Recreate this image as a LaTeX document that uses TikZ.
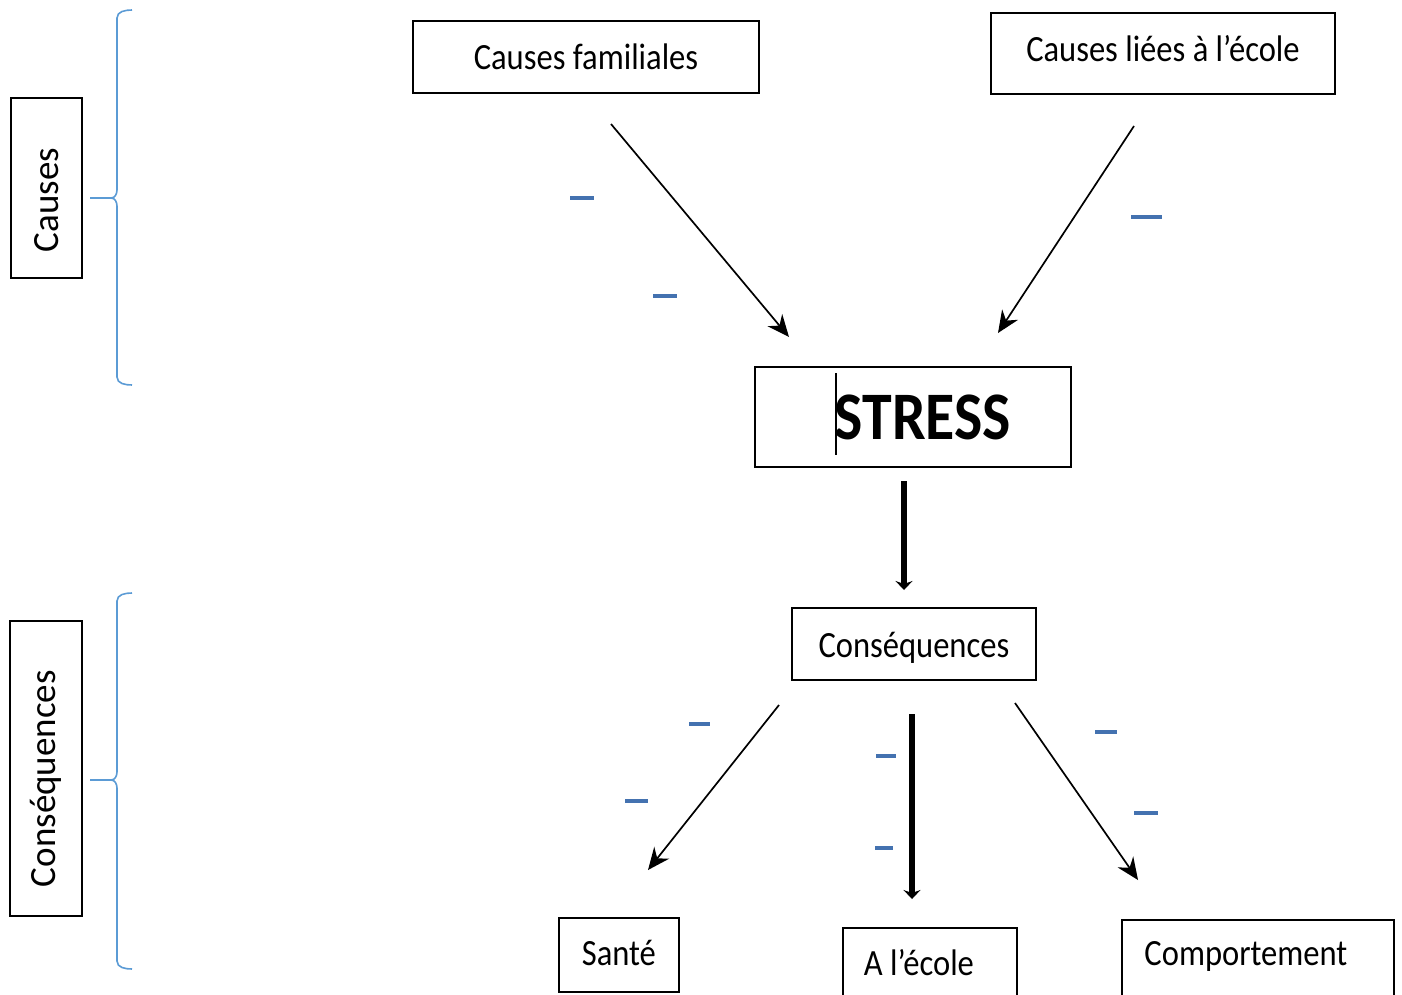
\documentclass[tikz,border=0pt]{standalone}
\usepackage{fontspec}
\setmainfont[FakeStretch=0.88]{Carlito}
\newfontfamily\rotfont{Carlito}
\usetikzlibrary{arrows.meta}
\definecolor{dashblue}{RGB}{68,114,176}
\definecolor{braceblue}{RGB}{91,155,213}
\begin{document}
\begin{tikzpicture}[x=1pt,y=-1pt,
  box/.style={draw,line width=1.8pt,inner sep=0pt,font=\fontsize{37}{42}\selectfont},
  rotbox/.style={draw,line width=1.8pt,rotate=90,inner ysep=0pt,align=left,font=\rotfont\fontsize{37}{42}\selectfont},
  thinarrow/.style={line width=1.7pt,-{Stealth[length=22pt,width=19pt]}},
  thickarrow/.style={line width=5.5pt,-{Stealth[length=9pt,width=17pt]}},
  bluedash/.style={dashblue,line width=4pt},
  bracepath/.style={braceblue,line width=1.6pt}]
\useasboundingbox (0,0) rectangle (1402,994);

% boxes
\node[box,minimum width=346pt,minimum height=72pt] (cf) at (586,57) {Causes familiales};
\node[box,anchor=north west,minimum width=344pt,text height=49pt,text depth=32pt] (cl) at (990,12) {Causes liées à l’école};
\node[box,minimum width=316pt,minimum height=100pt,font=\bfseries\fontsize{68}{72}\selectfont] (stress) at (913,417) {\hspace{20pt}STRESS};
\node[box,anchor=north west,minimum width=244pt,text height=50pt,text depth=22pt] (cons) at (791,607) {Conséquences};
\node[box,anchor=north west,minimum width=120pt,text height=48pt,text depth=26pt] (sante) at (558,917) {Santé};
\node[box,anchor=north west,minimum width=174pt,text height=48pt,text depth=40pt] (ecole) at (842,927) {\hspace*{-22pt}A l’école};
\node[box,anchor=north west,minimum width=272pt,text height=46pt,text depth=45pt] (comp) at (1121,919) {\hspace*{-24pt}Comportement};

% side boxes
\node[rotbox,inner xsep=26pt,text width=128pt,minimum height=71pt] (causesL) at (46.5,188) {Causes};
\node[rotbox,inner xsep=29pt,text width=237pt,minimum height=72pt] (consL) at (46,768.5) {Conséquences};

% text cursor
\draw[line width=1.5pt] (836,373) -- (836,455);

% braces
\draw[bracepath] (132,10) to[out=180,in=90] (117,18) -- (117,190) to[out=-90,in=0] (111,198) -- (90,198);
\draw[bracepath] (111,198) to[out=0,in=90] (117,206) -- (117,377) to[out=-90,in=180] (132,385);
\draw[bracepath] (132,593) to[out=180,in=90] (117,601) -- (117,772) to[out=-90,in=0] (111,780) -- (90,780);
\draw[bracepath] (111,780) to[out=0,in=90] (117,788) -- (117,961) to[out=-90,in=180] (132,969);

% arrow end points
\coordinate (a1s) at (611,124); \coordinate (a1e) at (789,337);
\coordinate (a2s) at (1134,126); \coordinate (a2e) at (998,333);
\coordinate (a3s) at (904,481); \coordinate (a3e) at (904,590);
\coordinate (a4s) at (779,705); \coordinate (a4e) at (648,870);
\coordinate (a5s) at (912,714); \coordinate (a5e) at (912,899);
\coordinate (a6s) at (1015,703); \coordinate (a6e) at (1138,880);

\draw[thinarrow] (a1s) -- (a1e);
\draw[thinarrow] (a2s) -- (a2e);
\draw[thickarrow] (a3s) -- (a3e);
\draw[thinarrow] (a4s) -- (a4e);
\draw[thickarrow] (a5s) -- (a5e);
\draw[thinarrow] (a6s) -- (a6e);

% blue dashes
\draw[bluedash] (570,198) -- (594,198);
\draw[bluedash] (653,296) -- (677,296);
\draw[bluedash] (1131,217) -- (1162,217);
\draw[bluedash] (689,724) -- (710,724);
\draw[bluedash] (625,801) -- (648,801);
\draw[bluedash] (876,756) -- (896,756);
\draw[bluedash] (875,848) -- (893,848);
\draw[bluedash] (1095,732) -- (1117,732);
\draw[bluedash] (1134,813) -- (1158,813);
\end{tikzpicture}
\end{document}
